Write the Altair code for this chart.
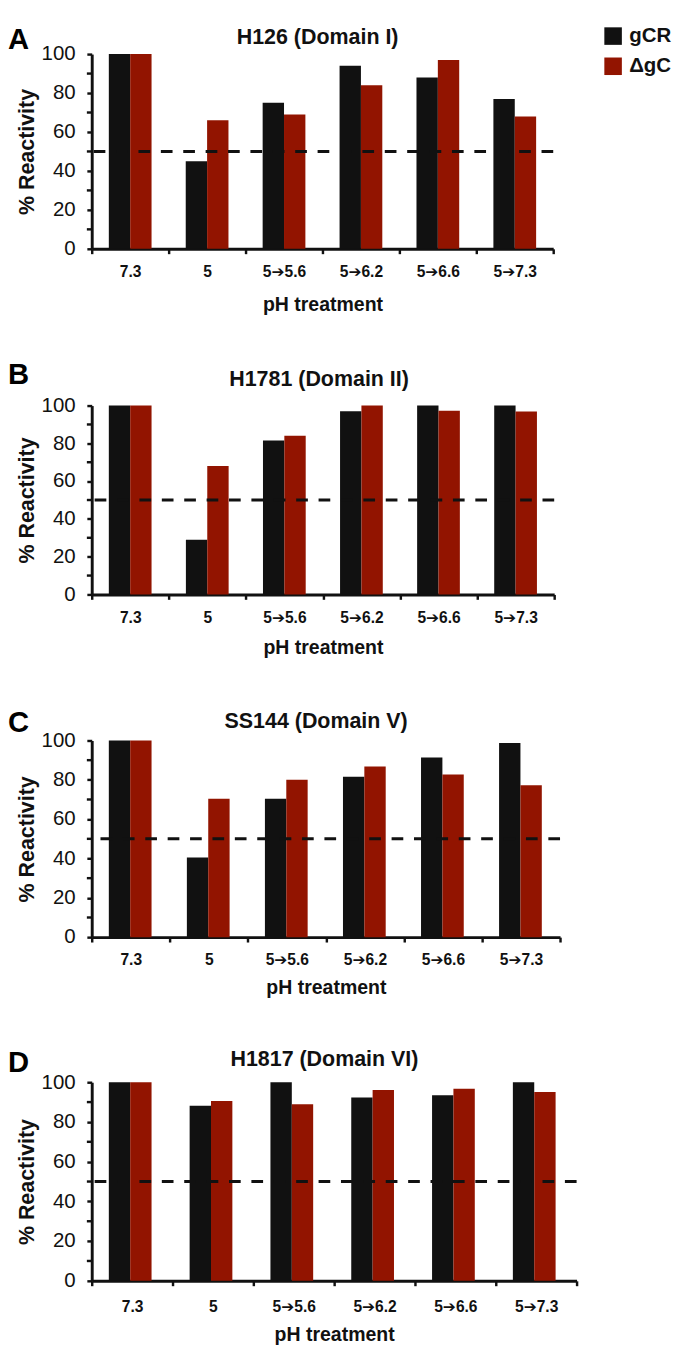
import altair as alt
import pandas as pd

# ---- data ----
categories = ["7.3", "5", "5➔5.6", "5➔6.2", "5➔6.6", "5➔7.3"]
series = ["gCR", "ΔgC"]
colors = ["#111111", "#921400"]
letters = ["A", "B", "C", "D"]
panel_titles = ["H126 (Domain I)", "H1781 (Domain II)", "SS144 (Domain V)", "H1817 (Domain VI)"]
y_titles = ["% Reactivity", "%  Reactivity", "% Reactivity", "% Reactivity"]
x_title = "pH treatment"
threshold = [50]
y_major = [0, 20, 40, 60, 80, 100]
y_minor = [10, 30, 50, 70, 90]

gcr_A = [100, 45, 75, 94, 88, 77]
dgc_A = [100, 66, 69, 84, 97, 68]
gcr_B = [100, 29, 81.5, 97, 100, 100]
dgc_B = [100, 68, 84, 100, 97.3, 96.8]
gcr_C = [100, 40.5, 70.4, 81.6, 91.4, 98.7]
dgc_C = [100, 70.4, 80.1, 86.8, 82.7, 77.3]
gcr_D = [100, 88.2, 100, 92.3, 93.5, 100]
dgc_D = [100, 90.5, 88.9, 96.1, 96.7, 95.1]

FONT = "Liberation Sans, Arial, DejaVu Sans"

# per-panel layout (invisible anchors 'top'/'bot' fix each panel's extent)
layout = [
    dict(w=474, h=200, ly=-29, ty=-10, tdx=-5, lpad=10, tpad=16, top=-29, bot=91),
    dict(w=475, h=194, ly=-46, ty=-20, tdx=-4, lpad=11, tpad=13, top=-50, bot=80),
    dict(w=481, h=202, ly=-33, ty=-13, tdx=-10, lpad=10, tpad=11, top=-50, bot=79),
    dict(w=498, h=204, ly=-35, ty=-17, tdx=-10, lpad=13, tpad=11, top=-50, bot=50),
]


def panel(i, gcr, dgc, show_legend):
    L = layout[i]
    df = pd.DataFrame({
        "pH": categories + categories,
        "series": [series[0]] * len(categories) + [series[1]] * len(categories),
        "value": gcr + dgc,
    })
    if show_legend:
        legend = alt.Legend(
            orient="none", legendX=525, legendY=-29, title=None, padding=0,
            symbolType="square", symbolSize=324, symbolStrokeWidth=0,
            symbolOpacity=1, labelFontSize=21, labelFontWeight="bold",
            labelFont=FONT, labelColor="#111", rowPadding=9, labelOffset=6,
        )
    else:
        legend = None
    bars = alt.Chart(df).mark_bar(opacity=1).encode(
        x=alt.X(
            "pH:N", sort=categories, title=x_title,
            scale=alt.Scale(paddingInner=0, paddingOuter=0),
            axis=alt.Axis(
                labelAngle=0, tickBand="extent", tickSize=5, tickWidth=2.5,
                tickColor="#111", domainColor="#111", domainWidth=3,
                labelFont=FONT, labelFontSize=16, labelFontWeight="bold",
                labelColor="#111", labelPadding=L["lpad"],
                titleFont=FONT, titleFontSize=20, titleFontWeight="bold",
                titleColor="#111", titlePadding=L["tpad"],
            ),
        ),
        xOffset=alt.XOffset(
            "series:N", sort=series,
            scale=alt.Scale(paddingInner=0, paddingOuter=0.8),
        ),
        y=alt.Y(
            "value:Q", title=y_titles[i],
            scale=alt.Scale(domain=[0, 100], nice=False),
            axis=alt.Axis(
                values=y_major, tickCount=10, labelOverlap=False,
                grid=False, tickSize=5, tickWidth=2.5, tickColor="#111",
                domainColor="#111", domainWidth=3,
                labelFont=FONT, labelFontSize=21, labelColor="#111",
                labelPadding=12,
                titleFont=FONT, titleFontSize=22, titleFontWeight="bold",
                titleColor="#111", titlePadding=3,
            ),
        ),
        color=alt.Color(
            "series:N", sort=series,
            scale=alt.Scale(domain=series, range=colors),
            legend=legend,
        ),
    )
    minor = alt.Chart(pd.DataFrame({"m": y_minor})).mark_tick(
        color="#111", thickness=2.5, size=5, opacity=1
    ).encode(y="m:Q", x=alt.value(-2.5))
    rule = alt.Chart(pd.DataFrame({"y": threshold})).mark_rule(
        color="#111", strokeWidth=3, strokeDash=[12, 11]
    ).encode(y="y:Q")
    texts = pd.DataFrame({"letter": [letters[i]], "title": [panel_titles[i]]})
    letter = alt.Chart(texts).mark_text(
        align="left", baseline="top", fontSize=30, fontWeight="bold",
        font=FONT, color="#000",
    ).encode(x=alt.value(-86), y=alt.value(L["ly"]), text="letter:N")
    title = alt.Chart(texts).mark_text(
        align="center", baseline="alphabetic", fontSize=22, fontWeight="bold",
        font=FONT, color="#111",
    ).encode(x=alt.value(L["w"] / 2 + L["tdx"]), y=alt.value(L["ty"]), text="title:N")
    # invisible anchors fixing the vertical extent of each panel
    top_anchor = alt.Chart(texts).mark_text(
        align="left", baseline="top", fontSize=10, opacity=0,
    ).encode(x=alt.value(0), y=alt.value(L["top"]), text="letter:N")
    bot_anchor = alt.Chart(texts).mark_text(
        align="left", baseline="bottom", fontSize=10, opacity=0,
    ).encode(x=alt.value(0), y=alt.value(L["h"] + L["bot"]), text="letter:N")
    return alt.layer(bars, minor, rule, letter, title, top_anchor, bot_anchor).properties(
        width=L["w"], height=L["h"],
    )


chart = alt.vconcat(
    panel(0, gcr_A, dgc_A, True),
    panel(1, gcr_B, dgc_B, False),
    panel(2, gcr_C, dgc_C, False),
    panel(3, gcr_D, dgc_D, False),
    spacing=20,
).properties(padding=0, background="white").configure_view(stroke=None)

chart.save("out.html", embed_options={"renderer": "svg", "actions": False})
